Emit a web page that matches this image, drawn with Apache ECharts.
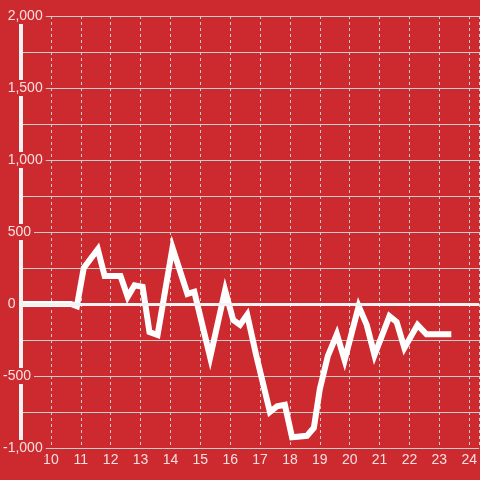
<!DOCTYPE html>
<html>
<head>
<meta charset="utf-8">
<script src="https://cdn.jsdelivr.net/npm/echarts@6/dist/echarts.min.js"></script>
<style>
html,body{margin:0;padding:0;background:#cc2a2f;}
#c{width:480px;height:480px;}
</style>
</head>
<body>
<div id="c"></div>
<script>
// x positions (hours) and values of the line
const xValues = [9.0, 10.67, 10.87, 11.1, 11.57, 11.8, 12.33, 12.57, 12.8, 13.07, 13.3, 13.57, 14.07, 14.57, 14.8, 15.33, 15.83, 16.1, 16.33, 16.57, 16.87, 17.33, 17.57, 17.83, 18.07, 18.57, 18.8, 19.0, 19.27, 19.57, 19.83, 20.3, 20.57, 20.83, 21.33, 21.57, 21.83, 22.27, 22.57, 23.4];
const yValues = [0, 0, -15, 250, 380, 195, 195, 50, 130, 120, -195, -215, 390, 70, 85, -370, 95, -110, -145, -75, -355, -750, -710, -700, -925, -915, -860, -590, -360, -210, -390, -15, -145, -355, -85, -125, -305, -145, -210, -210];
const xTickMin = 9, xTickMax = 24.333, xTickStep = 1;
const yTickMin = -1000, yTickMax = 2000, yTickStep = 250, yLabelStep = 500;

const bg = '#cc2a2f';
const labelColor = 'rgba(255,255,255,0.85)';
const gridColor = '#cccccc';
const font = 'Liberation Sans, Arial, sans-serif';

const data = xValues.map((x, i) => [x, yValues[i]]);

const chart = echarts.init(document.getElementById('c'), null, {renderer: 'canvas'});
chart.setOption({
  animation: false,
  backgroundColor: bg,
  grid: {left: 20, right: 0, top: 16, bottom: 32, containLabel: false},
  xAxis: {
    type: 'value', min: xTickMin, max: xTickMax, interval: xTickStep,
    axisLine: {show: false, onZero: false},
    axisTick: {show: false},
    splitLine: {show: true, lineStyle: {color: gridColor, width: 1, type: [3, 3]}},
    axisLabel: {
      color: labelColor, fontSize: 14, fontFamily: font, margin: 5,
      showMinLabel: false, showMaxLabel: false,
      formatter: v => (Number.isInteger(v) && v !== xTickMin) ? String(v) : ''
    }
  },
  yAxis: [
    {
      type: 'value', min: yTickMin, max: yTickMax, interval: yTickStep,
      position: 'left', z: 0,
      axisLine: {show: false}, axisTick: {show: false}, axisLabel: {show: false},
      splitLine: {show: true, lineStyle: {color: gridColor, width: 1}}
    },
    {
      type: 'value', min: yTickMin, max: yTickMax, interval: yTickStep,
      position: 'left', offset: 0, z: 5,
      axisLine: {show: true, onZero: false, lineStyle: {color: '#f2f2f2', width: 4}},
      axisTick: {show: false},
      splitLine: {show: false},
      axisLabel: {
        align: 'left', margin: 18,
        fontSize: 14, fontFamily: font, color: labelColor,
        backgroundColor: bg, padding: [1, 3, 1, 0],
        formatter: v => {
          if (v % yLabelStep !== 0) return '';
          const s = Math.abs(v).toLocaleString('en-US');
          return (v < 0 ? '{m|-}' : '{h|-}') + '{t|' + s + '}';
        },
        rich: {
          m: {color: labelColor, fontSize: 14, fontFamily: font},
          h: {color: 'rgba(0,0,0,0)', fontSize: 14, fontFamily: font},
          t: {color: labelColor, fontSize: 14, fontFamily: font}
        }
      }
    }
  ],
  series: [{
    type: 'line',
    data: data,
    xAxisIndex: 0, yAxisIndex: 0,
    showSymbol: false, symbol: 'none',
    lineStyle: {color: '#ffffff', width: 6, join: 'miter'},
    markLine: {
      silent: true, symbol: 'none', label: {show: false},
      lineStyle: {color: '#f2f2f2', width: 3, type: 'solid'},
      data: [{yAxis: 0}]
    },
    z: 3
  }]
});
</script>
</body>
</html>
